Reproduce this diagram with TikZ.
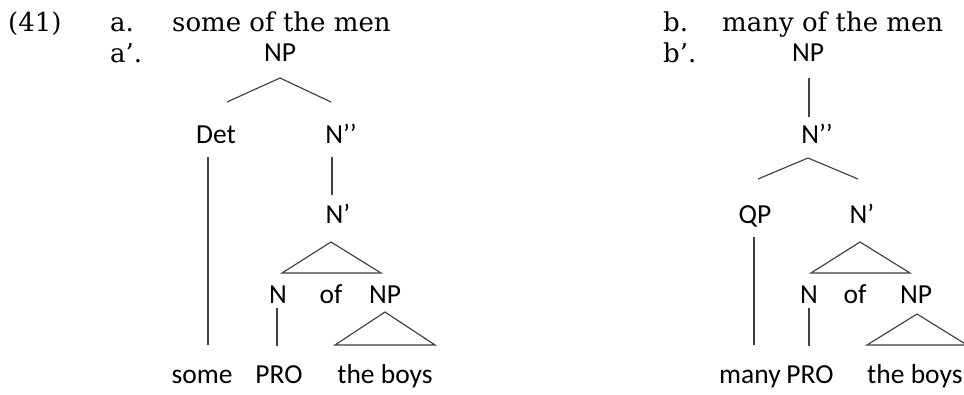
\documentclass[tikz,border=0pt]{standalone}
\usepackage{fontspec}
\setmainfont{DejaVu Serif}
\newfontfamily\treefont{Carlito}
\begin{document}
\begin{tikzpicture}[x=1pt,y=-1pt,
  ex/.style={font=\fontsize{26}{30}\selectfont, anchor=base west, inner sep=0pt},
  lab/.style={font=\treefont\fontsize{27.5}{32}\selectfont, anchor=base, inner sep=0pt},
  br/.style={draw=black!75, line width=1.15pt, line join=miter}]
\useasboundingbox (0,0) rectangle (964,394);
% example labels
\node[ex] (num) at (8,31) {(41)};
\node[ex] (la) at (110,31) {a.};
\node[ex] (ta) at (172,31) {some of the men};
\node[ex] (lap) at (110,62) {a’.};
\node[ex] (lb) at (663,31) {b.};
\node[ex] (tb) at (722,31) {many of the men};
\node[ex] (lbp) at (663,62) {b’.};
% tree a'
\node[lab] (A-NP) at (280,61) {NP};
\node[lab] (A-Det) at (216,143) {Det};
\node[lab] (A-N2) at (341,143) {N’’};
\node[lab] (A-N1) at (338,223) {N’};
\node[lab] (A-N) at (278,303) {N};
\node[lab] (A-of) at (331,303) {of};
\node[lab] (A-NP2) at (385,303) {NP};
\node[lab] (A-some) at (202,383) {some};
\node[lab] (A-PRO) at (279,383) {PRO};
\node[lab] (A-boys) at (385,383) {the boys};
\coordinate (A-top) at (280,78);
\coordinate (A-bl) at (227,102);
\coordinate (A-brr) at (331,102);
\draw[br] (A-bl) -- (A-top) -- (A-brr);
\coordinate (A-det1) at (208,157);
\coordinate (A-det2) at (208,345);
\draw[br] (A-det1) -- (A-det2);
\coordinate (A-n21) at (332,157);
\coordinate (A-n22) at (332,195);
\draw[br] (A-n21) -- (A-n22);
\coordinate (A-t1) at (331,242);
\coordinate (A-t2) at (282,273);
\coordinate (A-t3) at (381,273);
\draw[br] (A-t1) -- (A-t2) -- (A-t3) -- cycle;
\coordinate (A-n1) at (277,308);
\coordinate (A-n2) at (277,346);
\draw[br] (A-n1) -- (A-n2);
\coordinate (A-u1) at (385,312);
\coordinate (A-u2) at (335,345);
\coordinate (A-u3) at (435,345);
\draw[br] (A-u1) -- (A-u2) -- (A-u3) -- cycle;
% tree b'
\node[lab] (B-NP) at (808,61) {NP};
\node[lab] (B-N2) at (817,143) {N’’};
\node[lab] (B-QP) at (755,223) {QP};
\node[lab] (B-N1) at (862,223) {N’};
\node[lab] (B-N) at (809,303) {N};
\node[lab] (B-of) at (855,303) {of};
\node[lab] (B-NP2) at (916,303) {NP};
\node[lab] (B-many) at (750,383) {many};
\node[lab] (B-PRO) at (810,383) {PRO};
\node[lab, anchor=base west] (B-boys) at (867,383) {the boys};
\coordinate (B-v1) at (809,78);
\coordinate (B-v2) at (809,117);
\draw[br] (B-v1) -- (B-v2);
\coordinate (B-top) at (808,158);
\coordinate (B-bl) at (758,179);
\coordinate (B-brr) at (858,179);
\draw[br] (B-bl) -- (B-top) -- (B-brr);
\coordinate (B-q1) at (754,237);
\coordinate (B-q2) at (754,345);
\draw[br] (B-q1) -- (B-q2);
\coordinate (B-t1) at (860,242);
\coordinate (B-t2) at (811,273);
\coordinate (B-t3) at (910,273);
\draw[br] (B-t1) -- (B-t2) -- (B-t3) -- cycle;
\coordinate (B-n1) at (809,308);
\coordinate (B-n2) at (809,346);
\draw[br] (B-n1) -- (B-n2);
\coordinate (B-u1) at (917,314);
\coordinate (B-u2) at (867,345);
\coordinate (B-u3) at (967,345);
\draw[br] (B-u1) -- (B-u2) -- (B-u3) -- cycle;
\end{tikzpicture}
\end{document}
